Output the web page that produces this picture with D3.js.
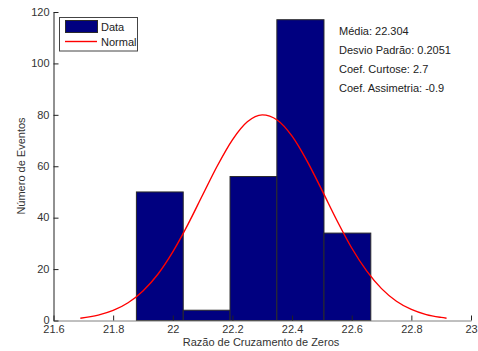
<!DOCTYPE html>
<html><head><meta charset="utf-8">
<script src="https://cdn.jsdelivr.net/npm/d3@7"></script>
<style>body{margin:0;background:#fff}svg{display:block;font-family:"Liberation Sans",Arial,sans-serif}</style>
</head><body><svg id="c" width="478" height="351"></svg>
<script>
// Histogram bins (edges) and counts
const binEdges = [21.878, 22.035, 22.192, 22.349, 22.507, 22.664];
const counts = [50, 4, 56, 117, 34];
// Fitted normal curve
const curveX = [21.69, 21.75, 21.8, 21.85, 21.9, 21.95, 22.0, 22.05, 22.1, 22.15, 22.2, 22.25, 22.3, 22.35, 22.4, 22.45, 22.5, 22.55, 22.6, 22.65, 22.7, 22.75, 22.8, 22.85, 22.9, 22.918];
const curveY = [0.9, 2.1, 3.9, 6.9, 11.5, 18.0, 26.7, 37.2, 48.8, 60.3, 70.3, 77.3, 80.0, 78.0, 71.7, 62.1, 50.7, 39.0, 28.2, 19.3, 12.4, 7.5, 4.3, 2.3, 1.2, 0.9];
const xTicks = [21.6, 21.8, 22, 22.2, 22.4, 22.6, 22.8, 23];
const yTicks = [0, 20, 40, 60, 80, 100, 120];
const statsLines = ["Média: 22.304", "Desvio Padrão: 0.2051", "Coef. Curtose: 2.7", "Coef. Assimetria: -0.9"];
const legendLabels = ["Data", "Normal"];

const svg = d3.select("#c");
const L = 53.5, R = 471, T = 12, B = 320.5;
const x = d3.scaleLinear().domain([21.6, 23]).range([L, R]);
const y = d3.scaleLinear().domain([0, 120]).range([B, T]);

// bars
const bars = counts.map((c, i) => ({x0: binEdges[i], x1: binEdges[i+1], c}));
svg.append("g").selectAll("rect").data(bars).join("rect")
  .attr("x", d => x(d.x0)).attr("y", d => y(d.c))
  .attr("width", d => x(d.x1) - x(d.x0)).attr("height", d => y(0) - y(d.c))
  .attr("fill", "#000080").attr("stroke", "#2a2a2a").attr("stroke-width", 1);

// curve
const pts = curveX.map((v, i) => [v, curveY[i]]);
svg.append("path").datum(pts)
  .attr("d", d3.line().x(d => x(d[0])).y(d => y(d[1])).curve(d3.curveMonotoneX))
  .attr("fill", "none").attr("stroke", "#ff0000").attr("stroke-width", 1.4);

// axes
const xAxis = svg.append("g").attr("transform", `translate(0,${B})`)
  .call(d3.axisBottom(x).tickValues(xTicks).tickSizeInner(-5).tickSizeOuter(0).tickPadding(4).tickFormat(d3.format("~g")));
xAxis.select(".domain").attr("stroke", "#808080");
xAxis.selectAll(".tick line").attr("stroke", "#222");
const yAxis = svg.append("g").attr("transform", `translate(${L},0)`)
  .call(d3.axisLeft(y).tickValues(yTicks).tickSizeInner(-5).tickSizeOuter(0).tickPadding(4));
yAxis.select(".domain").attr("stroke", "#222");
yAxis.selectAll(".tick line").attr("stroke", "#222");
svg.selectAll(".tick text").attr("font-size", 11).attr("fill", "#333").attr("font-family", "Liberation Sans, Arial, sans-serif");
xAxis.selectAll(".tick text").attr("dy", "0.74em");
yAxis.selectAll(".tick text").attr("dy", "0.3em");

// axis labels
svg.append("text").attr("x", 261).attr("y", 346).attr("text-anchor", "middle")
  .attr("font-size", 11).attr("fill", "#333").text("Razão de Cruzamento de Zeros");
svg.append("text").attr("transform", `translate(25,166) rotate(-90)`).attr("text-anchor", "middle")
  .attr("font-size", 11).attr("fill", "#333").text("Número de Eventos");

// legend
const lg = svg.append("g");
lg.append("rect").attr("x", 59.5).attr("y", 17.5).attr("width", 78).attr("height", 33.5)
  .attr("fill", "#fff").attr("stroke", "#444").attr("stroke-width", 1);
lg.append("rect").attr("x", 65.5).attr("y", 20.5).attr("width", 32).attr("height", 12)
  .attr("fill", "#000080").attr("stroke", "#2a2a2a");
lg.append("line").attr("x1", 65).attr("x2", 97).attr("y1", 41.5).attr("y2", 41.5)
  .attr("stroke", "#ff0000").attr("stroke-width", 1.4);
lg.selectAll("text").data(legendLabels).join("text")
  .attr("x", 101).attr("y", (d, i) => 30.5 + i * 15)
  .attr("font-size", 11).attr("fill", "#222").text(d => d);

// stats
svg.append("g").selectAll("text").data(statsLines).join("text")
  .attr("x", 339).attr("y", (d, i) => 34.5 + i * 19)
  .attr("font-size", 11).attr("fill", "#222").text(d => d);
</script></body></html>
